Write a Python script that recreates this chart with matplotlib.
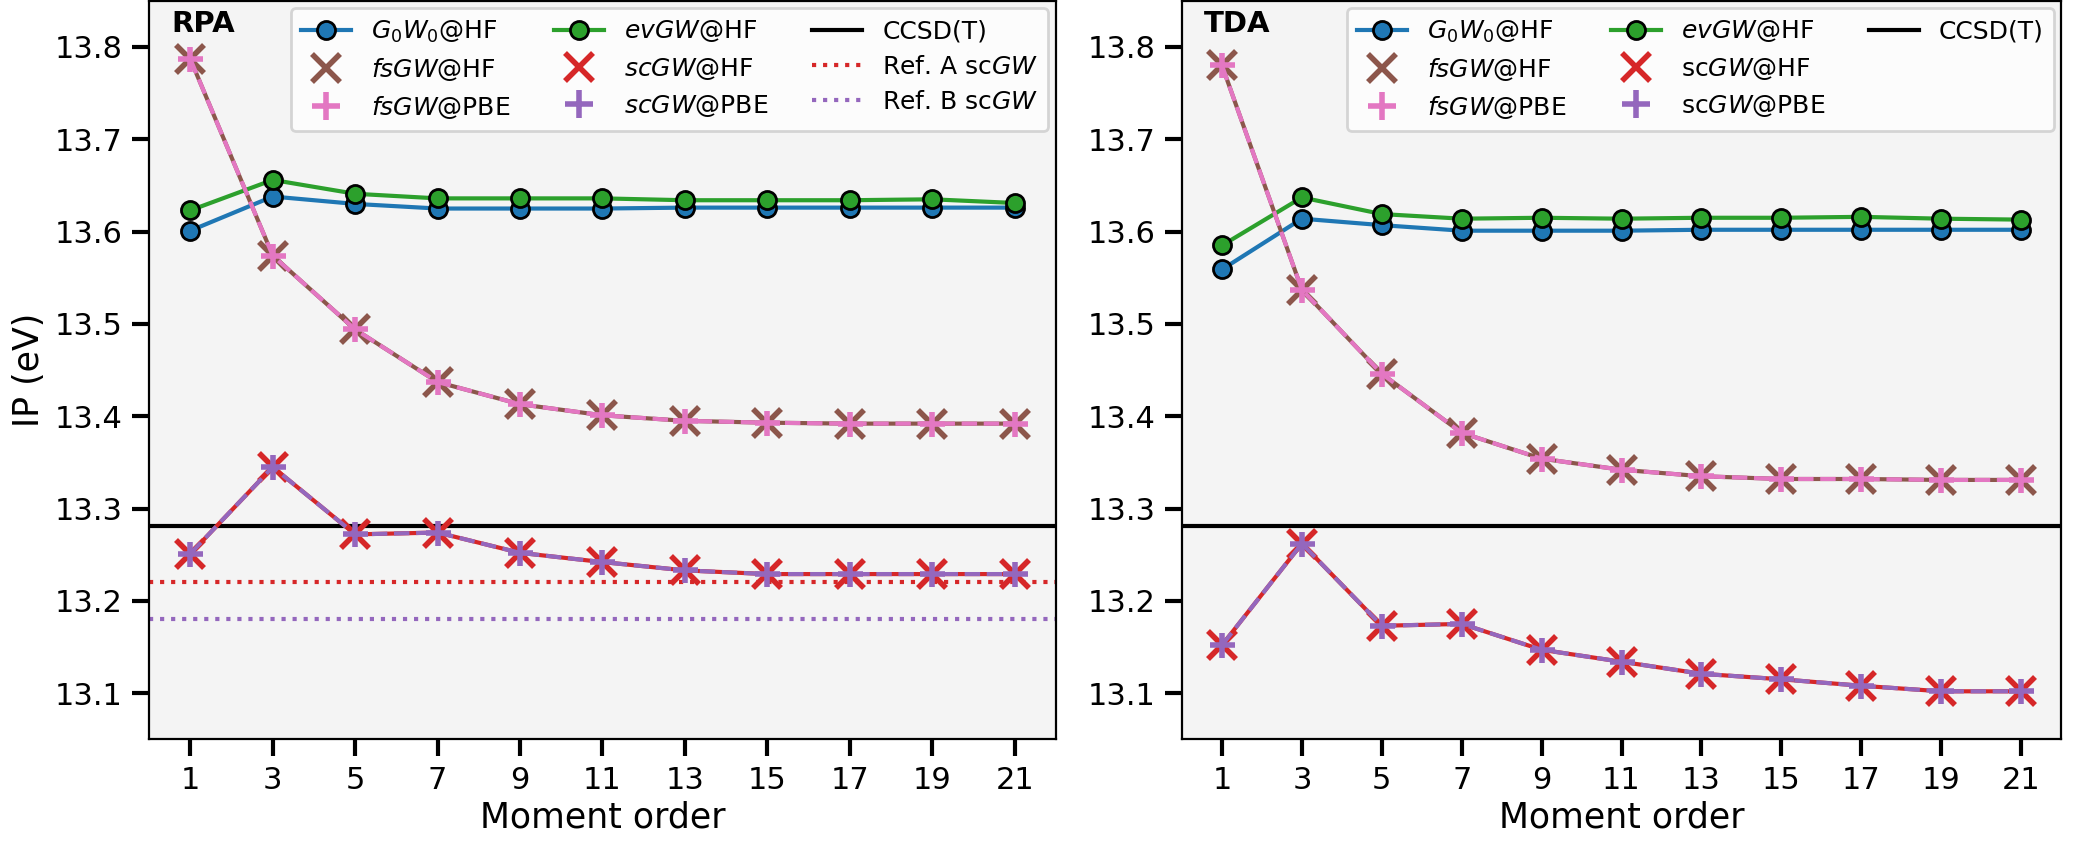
import numpy as np
from matplotlib import pyplot as plt
from matplotlib.lines import Line2D

# orde momen
momen = [1, 3, 5, 7, 9, 11, 13, 15, 17, 19, 21]

# data RPA
rpa_g0w0_hf = [13.601, 13.638, 13.630, 13.625, 13.625, 13.625, 13.626, 13.626, 13.626, 13.626, 13.626]
rpa_evgw_hf = [13.623, 13.656, 13.641, 13.636, 13.636, 13.636, 13.634, 13.634, 13.634, 13.635, 13.631]
rpa_fsgw_hf = [13.787, 13.574, 13.494, 13.437, 13.413, 13.401, 13.395, 13.393, 13.392, 13.392, 13.392]
rpa_fsgw_pbe = [13.787, 13.574, 13.494, 13.437, 13.413, 13.401, 13.395, 13.393, 13.392, 13.392, 13.392]
rpa_scgw_hf = [13.251, 13.345, 13.272, 13.274, 13.252, 13.242, 13.233, 13.229, 13.229, 13.229, 13.229]
rpa_scgw_pbe = [13.251, 13.345, 13.272, 13.274, 13.252, 13.242, 13.233, 13.229, 13.229, 13.229, 13.229]

# data TDA
tda_g0w0_hf = [13.559, 13.614, 13.607, 13.601, 13.601, 13.601, 13.602, 13.602, 13.602, 13.602, 13.602]
tda_evgw_hf = [13.585, 13.637, 13.619, 13.614, 13.615, 13.614, 13.615, 13.615, 13.616, 13.614, 13.613]
tda_fsgw_hf = [13.780, 13.537, 13.446, 13.382, 13.354, 13.342, 13.335, 13.332, 13.332, 13.331, 13.331]
tda_fsgw_pbe = [13.780, 13.537, 13.446, 13.382, 13.354, 13.342, 13.335, 13.332, 13.332, 13.331, 13.331]
tda_scgw_hf = [13.152, 13.262, 13.173, 13.175, 13.147, 13.134, 13.121, 13.115, 13.108, 13.102, 13.102]
tda_scgw_pbe = [13.152, 13.262, 13.173, 13.175, 13.147, 13.134, 13.121, 13.115, 13.108, 13.102, 13.102]

# referensi
ccsdt = 13.281
ref_a = 13.220
ref_b = 13.180

yticks = [13.1, 13.2, 13.3, 13.4, 13.5, 13.6, 13.7, 13.8]

# label legenda tiap panel
label_rpa = [r'$G_0W_0$@HF', r'$fsGW$@HF', r'$fsGW$@PBE',
             r'$evGW$@HF', r'$scGW$@HF', r'$scGW$@PBE', 'CCSD(T)',
             r'Ref. A sc$GW$', r'Ref. B sc$GW$']
label_tda = [r'$G_0W_0$@HF', r'$fsGW$@HF', r'$fsGW$@PBE',
             r'$evGW$@HF', r'sc$GW$@HF', r'sc$GW$@PBE', 'CCSD(T)']

biru = '#1f77b4'
hijau = '#2ca02c'
coklat = '#8c564b'
merah = '#d62728'
pink = '#e377c2'
ungu = '#9467bd'

plt.rcParams['font.family'] = 'DejaVu Sans'
plt.rcParams['mathtext.fontset'] = 'dejavusans'

fig = plt.figure(figsize=(10.44, 4.215), dpi=200)
ax1 = fig.add_axes([0.0714, 0.123, 0.4343, 0.876])
ax2 = fig.add_axes([0.5661, 0.123, 0.4210, 0.876])


def gambar(ax, g0w0, evgw, fs_hf, fs_pbe, sc_hf, sc_pbe, judul, labels, pakai_ref):
    ax.set_facecolor('#f4f4f4')
    ax.plot(momen, g0w0, '-o', color=biru, lw=1.5, ms=6.5, mec='k', mew=1.0, zorder=3)
    ax.plot(momen, evgw, '-o', color=hijau, lw=1.5, ms=6.5, mec='k', mew=1.0, zorder=3)
    ax.plot(momen, fs_hf, '-x', color=coklat, lw=1.5, ms=10, mew=2.0, zorder=3)
    ax.plot(momen, fs_pbe, '--+', color=pink, lw=1.5, ms=9, mew=2.0, zorder=3)
    ax.plot(momen, sc_hf, '-x', color=merah, lw=1.5, ms=10, mew=2.0, zorder=3)
    ax.plot(momen, sc_pbe, '--+', color=ungu, lw=1.5, ms=9, mew=2.0, zorder=3)
    ax.axhline(ccsdt, color='k', lw=1.5, zorder=2)

    handles = [
        Line2D([], [], color=biru, marker='o', lw=1.5, ms=6.5, mec='k', mew=1.0),
        Line2D([], [], color=coklat, marker='x', ls='none', ms=10, mew=2.0),
        Line2D([], [], color=pink, marker='+', ls='none', ms=10, mew=2.0),
        Line2D([], [], color=hijau, marker='o', lw=1.5, ms=6.5, mec='k', mew=1.0),
        Line2D([], [], color=merah, marker='x', ls='none', ms=10, mew=2.0),
        Line2D([], [], color=ungu, marker='+', ls='none', ms=10, mew=2.0),
        Line2D([], [], color='k', lw=1.5),
    ]
    labels = list(labels)
    if pakai_ref:
        ax.axhline(ref_a, color=merah, lw=1.5, ls=':', zorder=2)
        ax.axhline(ref_b, color=ungu, lw=1.5, ls=':', zorder=2)
        handles += [Line2D([], [], color=merah, lw=1.5, ls=':'),
                    Line2D([], [], color=ungu, lw=1.5, ls=':')]
    else:
        # dua entri kosong supaya susunan kolom 3-3-1
        handles += [Line2D([], [], ls='none'), Line2D([], [], ls='none')]
        labels += ['', '']

    ax.legend(handles, labels, ncol=3, loc='upper right', fontsize=9,
              borderaxespad=0.3, handlelength=2.0, columnspacing=1.75,
              labelspacing=0.45)

    ax.text(0.025, 0.988, judul, transform=ax.transAxes, ha='left', va='top',
            fontsize=10.5, fontweight='bold')

    ax.set_xlim(0, 22)
    ax.set_ylim(13.05, 13.85)
    ax.set_xticks(momen)
    ax.set_yticks(yticks)
    ax.set_yticklabels(['%.1f' % v for v in yticks])
    ax.tick_params(labelsize=11, width=1.5, length=6)
    for s in ax.spines.values():
        s.set_linewidth(0.8)
    ax.set_xlabel('Moment order', fontsize=12.5, labelpad=2)


gambar(ax1, rpa_g0w0_hf, rpa_evgw_hf, rpa_fsgw_hf, rpa_fsgw_pbe,
       rpa_scgw_hf, rpa_scgw_pbe, 'RPA', label_rpa, True)
gambar(ax2, tda_g0w0_hf, tda_evgw_hf, tda_fsgw_hf, tda_fsgw_pbe,
       tda_scgw_hf, tda_scgw_pbe, 'TDA', label_tda, False)

ax1.set_ylabel('IP (eV)', fontsize=12.5, labelpad=3)

plt.savefig('out.png', dpi=200)
